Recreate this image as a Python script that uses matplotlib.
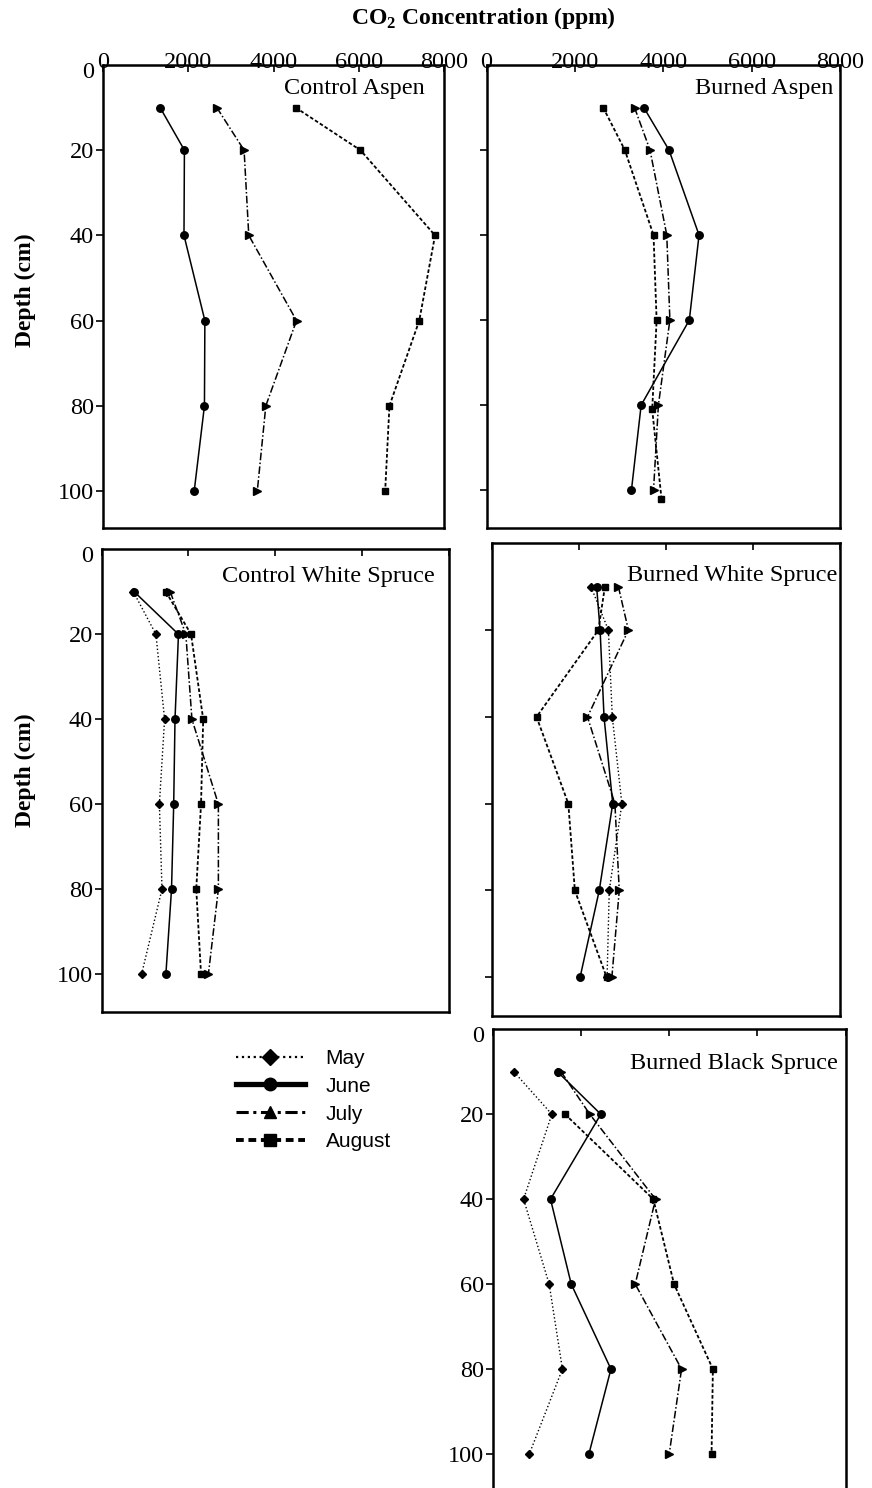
import matplotlib.pyplot as plt
from matplotlib.lines import Line2D
from matplotlib.transforms import ScaledTranslation

# depth (cm) of the samples
depth = [10, 20, 40, 60, 80, 100]
depth_ba_aug = [10, 20, 40, 60, 81, 102]
depth_bbs_aug = [20, 40, 60, 80, 100]

# CO2 concentration (ppm)
ca_june = [1340, 1910, 1900, 2390, 2380, 2140]
ca_july = [2670, 3310, 3420, 4540, 3820, 3620]
ca_aug = [4520, 6040, 7790, 7420, 6720, 6620]

ba_june = [3560, 4130, 4810, 4590, 3500, 3280]
ba_july = [3350, 3700, 4080, 4150, 3890, 3780]
ba_aug = [2640, 3130, 3780, 3850, 3750, 3960]

cws_may = [730, 1250, 1450, 1330, 1390, 920]
cws_june = [750, 1770, 1690, 1660, 1610, 1480]
cws_july = [1580, 1940, 2080, 2690, 2690, 2460]
cws_aug = [1480, 2060, 2340, 2290, 2180, 2290]

bws_may = [2280, 2680, 2770, 2990, 2700, 2650]
bws_june = [2410, 2490, 2580, 2780, 2470, 2030]
bws_july = [2910, 3140, 2200, 2830, 2930, 2760]
bws_aug = [2600, 2450, 1030, 1760, 1910, 2640]

bbs_may = [480, 1340, 700, 1280, 1580, 830]
bbs_june = [1470, 2450, 1310, 1780, 2680, 2180]
bbs_july = [1550, 2200, 3690, 3230, 4280, 4000]
bbs_aug = [1640, 3640, 4110, 4990, 4960]

months = ['May', 'June', 'July', 'August']
xticks = [0, 2000, 4000, 6000, 8000]
yticks = [0, 20, 40, 60, 80, 100]

serif = 'Liberation Serif'
sans = 'Liberation Sans'
plt.rcParams['mathtext.fontset'] = 'custom'
plt.rcParams['mathtext.rm'] = serif
plt.rcParams['mathtext.bf'] = serif + ':bold'

styles = {
    'May': dict(ls=':', marker='D', ms=4.3, lw=1.0),
    'June': dict(ls='-', marker='o', ms=5.4, lw=1.1),
    'July': dict(ls=(0, (5, 1.5, 1, 1.5)), marker='>', ms=5.8, lw=1.1),
    'August': dict(ls=(0, (2, 1.2)), marker='s', ms=5.0, lw=1.3),
}

W, H = 872, 1488
fig = plt.figure(figsize=(W / 100, H / 100), dpi=100)
FS = 17.5


def make_axes(x0, x1, y0, y1, ybottom, xlabels, ylabels):
    ax = fig.add_axes([x0 / W, 1 - y1 / H, (x1 - x0) / W, (y1 - y0) / H])
    ax.set_xlim(0, 8000)
    ax.set_ylim(ybottom, 0)
    ax.xaxis.tick_top()
    ax.set_xticks(xticks)
    ax.set_yticks(yticks)
    ax.tick_params(axis='x', direction='in', length=5, width=1.2,
                   labeltop=xlabels, labelbottom=False, pad=-6,
                   labelsize=FS)
    ax.tick_params(axis='y', direction='out', length=5, width=1.2,
                   labelleft=ylabels, pad=1.5, labelsize=FS)
    for lab in ax.get_xticklabels() + ax.get_yticklabels():
        lab.set_fontfamily(serif)
    # the "0" depth label sits a little below the top frame, no tick stub
    tick0 = ax.yaxis.get_major_ticks()[0]
    tick0.tick1line.set_visible(False)
    zero = tick0.label1
    zero.set_transform(zero.get_transform() +
                       ScaledTranslation(0, -5 / 100, fig.dpi_scale_trans))
    for s in ax.spines.values():
        s.set_linewidth(1.8)
    return ax


def draw(ax, series):
    for month, d, v in series:
        st = styles[month]
        ax.plot(v, d, color='black', linestyle=st['ls'], linewidth=st['lw'],
                marker=st['marker'], markersize=st['ms'],
                markerfacecolor='black', markeredgecolor='black')


def label(ax, text, x, y):
    ax.text(x, y, text, transform=ax.transAxes, ha='right', va='center',
            fontsize=FS, fontfamily=serif)


ax1 = make_axes(103, 444, 65, 527.6, 108.6, True, True)
draw(ax1, [('June', depth, ca_june), ('July', depth, ca_july),
           ('August', depth, ca_aug)])
label(ax1, 'Control Aspen', 0.944, 0.950)

ax2 = make_axes(486.5, 840, 65, 528, 108.9, True, False)
draw(ax2, [('June', depth, ba_june), ('July', depth, ba_july),
           ('August', depth_ba_aug, ba_aug)])
label(ax2, 'Burned Aspen', 0.982, 0.950)

ax3 = make_axes(101.7, 448.7, 549.3, 1012.3, 109.0, False, True)
draw(ax3, [('May', depth, cws_may), ('June', depth, cws_june),
           ('July', depth, cws_july), ('August', depth, cws_aug)])
label(ax3, 'Control White Spruce', 0.9605, 0.942)

ax4 = make_axes(491.7, 840, 543.3, 1015.7, 108.85, False, False)
draw(ax4, [('May', depth, bws_may), ('June', depth, bws_june),
           ('July', depth, bws_july), ('August', depth, bws_aug)])
label(ax4, 'Burned White Spruce', 0.993, 0.931)

ax5 = make_axes(492.7, 845.7, 1029.3, 1495, 109.65, False, True)
draw(ax5, [('May', depth, bbs_may), ('June', depth, bbs_june),
           ('July', depth, bbs_july), ('August', depth_bbs_aug, bbs_aug)])
label(ax5, 'Burned Black Spruce', 0.978, 0.9255)

# shared labels
fig.text(483 / W, 1 - 18 / H, r'CO$_\mathbf{2}$ Concentration (ppm)',
         ha='center', va='center', fontsize=17, fontweight='bold',
         fontfamily=serif)
for yc in (290, 770):
    fig.text(25 / W, 1 - yc / H, 'Depth (cm)', rotation=90, ha='center',
             va='center', fontsize=17, fontweight='bold', fontfamily=serif)

# legend with thick sample lines
handles = [
    Line2D([], [], color='black', ls=':', lw=1.6, marker='D', ms=8),
    Line2D([], [], color='black', ls='-', lw=3.8, marker='o', ms=9),
    Line2D([], [], color='black', ls=(0, (4, 1.5, 1, 1.5)), lw=2.2,
           marker='^', ms=9),
    Line2D([], [], color='black', ls=(0, (2, 1.2)), lw=2.8, marker='s',
           ms=9),
]
fig.legend(handles, months, loc='upper left',
           bbox_to_anchor=(236 / W, 1 - 1049 / H), frameon=False,
           prop={'family': sans, 'size': 15}, handlelength=3.3,
           handletextpad=1.0, labelspacing=0.42, borderpad=0,
           borderaxespad=0)

fig.savefig('out.png', dpi=100)
